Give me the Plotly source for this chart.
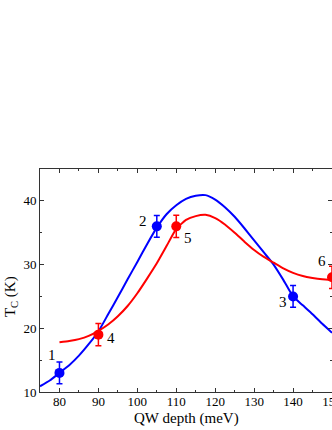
import plotly.graph_objects as go

# measured points (QW depth in meV, Tc in K)
blue_x = [80, 105, 140]
blue_y = [13, 36, 25]
blue_err = [1.7, 1.7, 1.7]
blue_labels = ["1", "2", "3"]

red_x = [90, 110, 150]
red_y = [19, 36, 28]
red_err = [1.75, 1.75, 1.75]
red_labels = ["4", "5", "6"]

# fitted curves
blue_curve_x = [75, 77.5, 80, 82.5, 85, 87.5, 90, 92.5, 95, 97.5, 100, 102.5, 105, 107.5,
                110, 112.5, 115, 117.5, 120, 122.5, 125, 127.5, 130, 132.5, 135, 137.5,
                140, 142.5, 145, 147.5, 150]
blue_curve_y = [10.9, 11.8, 13.0, 14.2, 15.7, 17.5, 19.5, 22.2, 24.9, 27.7, 30.4, 33.2, 35.8, 37.9,
                39.3, 40.3, 40.8, 40.9, 40.2, 39.0, 37.5, 35.7, 33.8, 31.9, 30.0, 27.6,
                25.0, 23.6, 22.2, 20.7, 19.3]

red_curve_x = [80, 82.5, 85, 87.5, 90, 92.5, 95, 97.5, 100, 102.5, 105, 107.5, 110, 112.5,
               115, 117.5, 120, 122.5, 125, 127.5, 130, 132.5, 135, 137.5, 140, 142.5,
               145, 147.5, 150]
red_curve_y = [17.8, 18.0, 18.3, 18.8, 19.6, 20.6, 21.9, 23.5, 25.5, 27.8, 30.2, 32.9, 35.6, 37.0,
               37.6, 37.8, 37.3, 36.3, 35.0, 33.6, 32.3, 31.2, 30.3, 29.4, 28.7, 28.2,
               27.9, 27.7, 27.6]

# pixel offsets of the number labels from their points
label_shift = {"1": (-7, 18), "2": (-14, 5), "3": (-10, -6),
               "4": (13, -3), "5": (12, -12), "6": (-10, 16)}

BLUE = "#0000ff"
RED = "#ff0000"
FONT = "Liberation Serif"

fig = go.Figure()

fig.add_trace(go.Scatter(x=blue_curve_x, y=blue_curve_y, mode="lines",
                         line=dict(color=BLUE, width=2, shape="spline", smoothing=0.5),
                         showlegend=False))
fig.add_trace(go.Scatter(x=red_curve_x, y=red_curve_y, mode="lines",
                         line=dict(color=RED, width=2, shape="spline", smoothing=0.5),
                         showlegend=False))

fig.add_trace(go.Scatter(x=blue_x, y=blue_y, mode="markers",
                         marker=dict(color=BLUE, size=10),
                         error_y=dict(type="data", array=blue_err, color=BLUE, thickness=1.5, width=3),
                         showlegend=False))
fig.add_trace(go.Scatter(x=red_x, y=red_y, mode="markers",
                         marker=dict(color=RED, size=10),
                         error_y=dict(type="data", array=red_err, color=RED, thickness=1.5, width=3),
                         showlegend=False))

for xs, ys, labs in [(blue_x, blue_y, blue_labels), (red_x, red_y, red_labels)]:
    for x, y, lab in zip(xs, ys, labs):
        dx, dy = label_shift[lab]
        fig.add_annotation(x=x, y=y, text=lab, showarrow=False, xshift=dx, yshift=dy,
                           font=dict(family=FONT, size=15, color="black"))

# axis titles placed as annotations to match the original positions
fig.add_annotation(x=0.5, y=-0.117, xref="paper", yref="paper", text="QW depth (meV)",
                   showarrow=False, yanchor="middle",
                   font=dict(family=FONT, size=15, color="black"))
fig.add_annotation(x=-0.099, y=0.426, xref="paper", yref="paper", text="T<sub>C</sub> (K)",
                   showarrow=False, textangle=-90, xanchor="center", yanchor="middle",
                   font=dict(family=FONT, size=15, color="black"))

axis_common = dict(showgrid=False, zeroline=False, showline=True, linecolor="#333333",
                   linewidth=1, ticks="inside", ticklen=4, tickcolor="#333333", mirror="ticks",
                   automargin=False, tickfont=dict(family=FONT, size=13, color="black"))

# the original is cut at the right edge, so the 150 label is only half visible
fig.update_xaxes(range=[75, 150], dtick=10, tick0=0, ticklabelstandoff=-3,
                 ticklabeloverflow="allow",
                 minor=dict(dtick=5, ticks="inside", ticklen=2, tickcolor="#333333"),
                 **axis_common)
fig.update_yaxes(range=[10, 45], dtick=10, tick0=0,
                 minor=dict(dtick=5, ticks="inside", ticklen=2, tickcolor="#333333"),
                 **axis_common)

fig.update_layout(template="none", width=332, height=430,
                  margin=dict(l=40, r=0, t=169, b=38),
                  paper_bgcolor="white", plot_bgcolor="white")

# drop the page's default body margin so the figure sits at the window's corner
fig.write_html("out.html", config={"displayModeBar": False},
               post_script="document.body.style.margin='0';document.body.style.overflow='hidden';")
